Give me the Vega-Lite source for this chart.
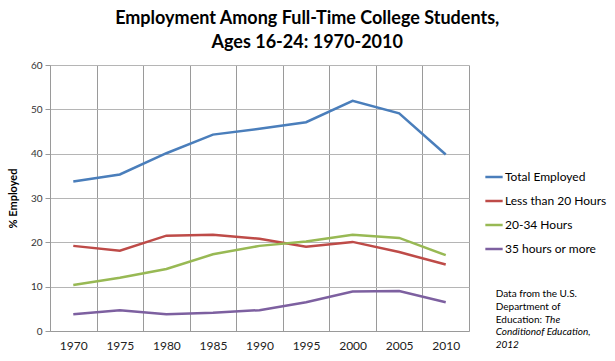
{
  "$schema": "https://vega.github.io/schema/vega-lite/v6.json",
  "width": 419,
  "height": 266,
  "padding": {"left": 7, "right": 5, "top": 10, "bottom": 5},
  "background": "white",
  "config": {
    "font": "Lato",
    "view": {"stroke": null}
  },
  "title": {
    "text": ["Employment Among Full-Time College Students,", "Ages 16-24: 1970-2010"],
    "font": "Lato",
    "fontSize": 18,
    "fontWeight": "bold",
    "color": "#000000",
    "lineHeight": 24,
    "anchor": "middle",
    "frame": "bounds",
    "offset": 8
  },
  "layer": [
    {
      "data": {
        "values": [
          {"year": "1970", "series": "Total Employed", "pct": 33.7},
          {"year": "1975", "series": "Total Employed", "pct": 35.3},
          {"year": "1980", "series": "Total Employed", "pct": 40.1},
          {"year": "1985", "series": "Total Employed", "pct": 44.3},
          {"year": "1990", "series": "Total Employed", "pct": 45.6},
          {"year": "1995", "series": "Total Employed", "pct": 47.1},
          {"year": "2000", "series": "Total Employed", "pct": 51.9},
          {"year": "2005", "series": "Total Employed", "pct": 49.1},
          {"year": "2010", "series": "Total Employed", "pct": 39.8},
          {"year": "1970", "series": "Less than 20 Hours", "pct": 19.2},
          {"year": "1975", "series": "Less than 20 Hours", "pct": 18.1},
          {"year": "1980", "series": "Less than 20 Hours", "pct": 21.5},
          {"year": "1985", "series": "Less than 20 Hours", "pct": 21.7},
          {"year": "1990", "series": "Less than 20 Hours", "pct": 20.8},
          {"year": "1995", "series": "Less than 20 Hours", "pct": 19.0},
          {"year": "2000", "series": "Less than 20 Hours", "pct": 20.1},
          {"year": "2005", "series": "Less than 20 Hours", "pct": 17.8},
          {"year": "2010", "series": "Less than 20 Hours", "pct": 15.0},
          {"year": "1970", "series": "20-34 Hours", "pct": 10.4},
          {"year": "1975", "series": "20-34 Hours", "pct": 12.0},
          {"year": "1980", "series": "20-34 Hours", "pct": 14.0},
          {"year": "1985", "series": "20-34 Hours", "pct": 17.3},
          {"year": "1990", "series": "20-34 Hours", "pct": 19.2},
          {"year": "1995", "series": "20-34 Hours", "pct": 20.2},
          {"year": "2000", "series": "20-34 Hours", "pct": 21.7},
          {"year": "2005", "series": "20-34 Hours", "pct": 21.0},
          {"year": "2010", "series": "20-34 Hours", "pct": 17.1},
          {"year": "1970", "series": "35 hours or more", "pct": 3.8},
          {"year": "1975", "series": "35 hours or more", "pct": 4.7},
          {"year": "1980", "series": "35 hours or more", "pct": 3.8},
          {"year": "1985", "series": "35 hours or more", "pct": 4.1},
          {"year": "1990", "series": "35 hours or more", "pct": 4.7},
          {"year": "1995", "series": "35 hours or more", "pct": 6.5},
          {"year": "2000", "series": "35 hours or more", "pct": 8.9},
          {"year": "2005", "series": "35 hours or more", "pct": 9.0},
          {"year": "2010", "series": "35 hours or more", "pct": 6.5}
        ]
      },
      "mark": {"type": "line", "strokeWidth": 2.5},
      "encoding": {
        "x": {
          "field": "year",
          "type": "ordinal",
          "bandPosition": 0.5,
          "scale": {"type": "band", "paddingInner": 0, "paddingOuter": 0},
          "axis": {
            "title": null,
            "labelAngle": 0,
            "labelFont": "Lato",
            "labelFontSize": 12,
            "labelColor": "#222222",
            "labelPadding": 9,
            "ticks": false,
            "tickBand": "extent",
            "grid": true,
            "gridColor": "#9a9a9a",
            "gridWidth": 1,
            "domainColor": "#9a9a9a",
            "domainWidth": 1
          }
        },
        "y": {
          "field": "pct",
          "type": "quantitative",
          "scale": {"domain": [0, 60], "nice": false},
          "axis": {
            "title": "% Employed",
            "titleFont": "Lato",
            "titleFontSize": 11,
            "titleFontWeight": "bold",
            "titleColor": "#000000",
            "titlePadding": 12,
            "values": [0, 10, 20, 30, 40, 50, 60],
            "labelFont": "Lato",
            "labelFontSize": 10,
            "labelColor": "#333333",
            "labelPadding": 3,
            "tickSize": 5,
            "tickColor": "#9a9a9a",
            "gridColor": "#b5b5b5",
            "gridWidth": 1,
            "domainColor": "#9a9a9a"
          }
        },
        "color": {
          "field": "series",
          "type": "nominal",
          "sort": ["Total Employed", "Less than 20 Hours", "20-34 Hours", "35 hours or more"],
          "scale": {
            "domain": ["Total Employed", "Less than 20 Hours", "20-34 Hours", "35 hours or more"],
            "range": ["#4a7ebb", "#be4b48", "#98b954", "#7d60a0"]
          },
          "legend": {
            "title": null,
            "orient": "none",
            "legendX": 434,
            "legendY": 102,
            "symbolType": "stroke",
            "symbolSize": 300,
            "symbolStrokeWidth": 2.5,
            "labelFont": "Lato",
            "labelFontSize": 12,
            "labelColor": "#000000",
            "labelOffset": 1,
            "rowPadding": 8
          }
        }
      }
    },
    {
      "data": {"values": [{"note": "source"}]},
      "mark": {"type": "text", "align": "left", "baseline": "middle", "font": "Lato", "fontSize": 10, "lineHeight": 12.7, "color": "#000000", "dx": 50},
      "encoding": {
        "x": {"datum": "2010", "type": "ordinal", "bandPosition": 0.5},
        "y": {"datum": 8.3},
        "text": {"value": ["Data from the U.S.", "Department  of", "Education:"]}
      }
    },
    {
      "data": {"values": [{"note": "source"}]},
      "mark": {"type": "text", "align": "left", "baseline": "middle", "font": "Lato", "fontSize": 10, "fontStyle": "italic", "color": "#000000", "dx": 99, "dy": 25.4},
      "encoding": {
        "x": {"datum": "2010", "type": "ordinal", "bandPosition": 0.5},
        "y": {"datum": 8.3},
        "text": {"value": "The"}
      }
    },
    {
      "data": {"values": [{"note": "source"}]},
      "mark": {"type": "text", "align": "left", "baseline": "middle", "font": "Lato", "fontSize": 10, "fontStyle": "italic", "lineHeight": 12.7, "color": "#000000", "dx": 50, "dy": 38.1},
      "encoding": {
        "x": {"datum": "2010", "type": "ordinal", "bandPosition": 0.5},
        "y": {"datum": 8.3},
        "text": {"value": ["Conditionof Education,", "2012"]}
      }
    }
  ]
}
